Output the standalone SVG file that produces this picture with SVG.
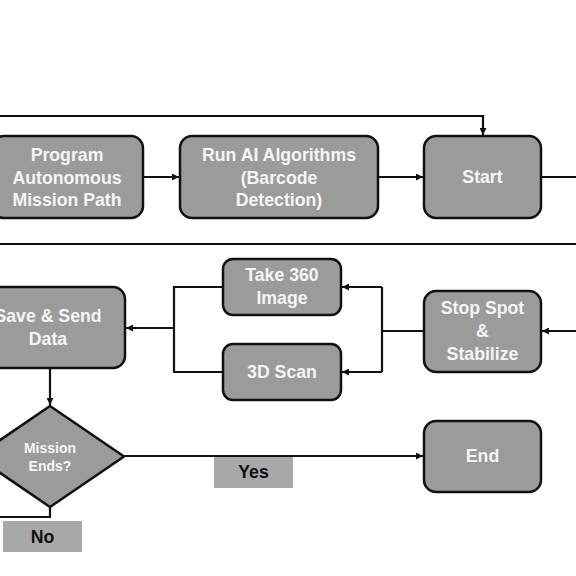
<svg xmlns="http://www.w3.org/2000/svg" width="576" height="576" viewBox="0 0 576 576">
<style>
.box{fill:#9b9b9b;stroke:#111;stroke-width:2.5}
.t{font-family:"Liberation Sans",Arial,sans-serif;font-weight:bold;font-size:17.7px;fill:#f5f5f5;text-anchor:middle}
.s{font-size:14px}
.lbl{fill:#a8a8a8}
.k{fill:#111}
.c{fill:none;stroke:#111;stroke-width:2.2}
</style>
<defs>
<marker id="a" viewBox="0 0 10 10" refX="10" refY="5" markerWidth="8" markerHeight="7" orient="auto" markerUnits="userSpaceOnUse">
<path d="M0,0L10,5L0,10z" fill="#111"/>
</marker>
</defs>
<rect width="576" height="576" fill="#fff"/>
<g id="connectors">
<path class="c" d="M0,116H483V135" marker-end="url(#a)"/>
<path class="c" d="M143,177H179" marker-end="url(#a)"/>
<path class="c" d="M378,177H423" marker-end="url(#a)"/>
<path class="c" d="M541,177H576"/>
<path class="c" d="M0,244H576"/>
<path class="c" d="M576,331H542" marker-end="url(#a)"/>
<path class="c" d="M424,331H382"/>
<path class="c" d="M382,287V372"/>
<path class="c" d="M382,287H342" marker-end="url(#a)"/>
<path class="c" d="M382,372H342" marker-end="url(#a)"/>
<path class="c" d="M223,287H174V372H223"/>
<path class="c" d="M174,328H126" marker-end="url(#a)"/>
<path class="c" d="M50,368V405" marker-end="url(#a)"/>
<path class="c" d="M124,456H423" marker-end="url(#a)"/>
<path class="c" d="M50,507V517H0"/>
</g>
<g id="program">
<rect class="box" x="-8" y="136" width="151" height="82" rx="12"/>
<text class="t" x="67" y="161">Program</text>
<text class="t" x="67" y="184">Autonomous</text>
<text class="t" x="67" y="206">Mission Path</text>
</g>
<g id="runai">
<rect class="box" x="180" y="136" width="198" height="82" rx="12"/>
<text class="t" x="279" y="161">Run AI Algorithms</text>
<text class="t" x="279" y="184">(Barcode</text>
<text class="t" x="279" y="206">Detection)</text>
</g>
<g id="start">
<rect class="box" x="424" y="136" width="117" height="82" rx="12"/>
<text class="t" x="482.5" y="183">Start</text>
</g>
<g id="take360">
<rect class="box" x="223" y="259" width="118" height="56" rx="10"/>
<text class="t" x="282" y="281">Take 360</text>
<text class="t" x="282" y="304">Image</text>
</g>
<g id="scan3d">
<rect class="box" x="223" y="344" width="118" height="56" rx="10"/>
<text class="t" x="282" y="378">3D Scan</text>
</g>
<g id="savesend">
<rect class="box" x="-30" y="287" width="155" height="81" rx="12"/>
<text class="t" x="48" y="322">Save &amp; Send</text>
<text class="t" x="48" y="345">Data</text>
</g>
<g id="stopspot">
<rect class="box" x="424" y="291" width="117" height="81" rx="12"/>
<text class="t" x="482.5" y="314">Stop Spot</text>
<text class="t" x="482.5" y="337">&amp;</text>
<text class="t" x="482.5" y="360">Stabilize</text>
</g>
<g id="missionends">
<path class="box" d="M50,406L124,456.5L50,507L-24,456.5Z"/>
<text class="t s" x="50" y="453">Mission</text>
<text class="t s" x="50" y="471">Ends?</text>
</g>
<g id="end">
<rect class="box" x="424" y="421" width="117" height="71" rx="12"/>
<text class="t" x="482.5" y="462">End</text>
</g>
<g id="yes">
<rect class="lbl" x="214" y="457" width="79" height="31"/>
<text class="t k" x="253.5" y="478">Yes</text>
</g>
<g id="no">
<rect class="lbl" x="3" y="521" width="79" height="31"/>
<text class="t k" x="42.5" y="543">No</text>
</g>
</svg>
